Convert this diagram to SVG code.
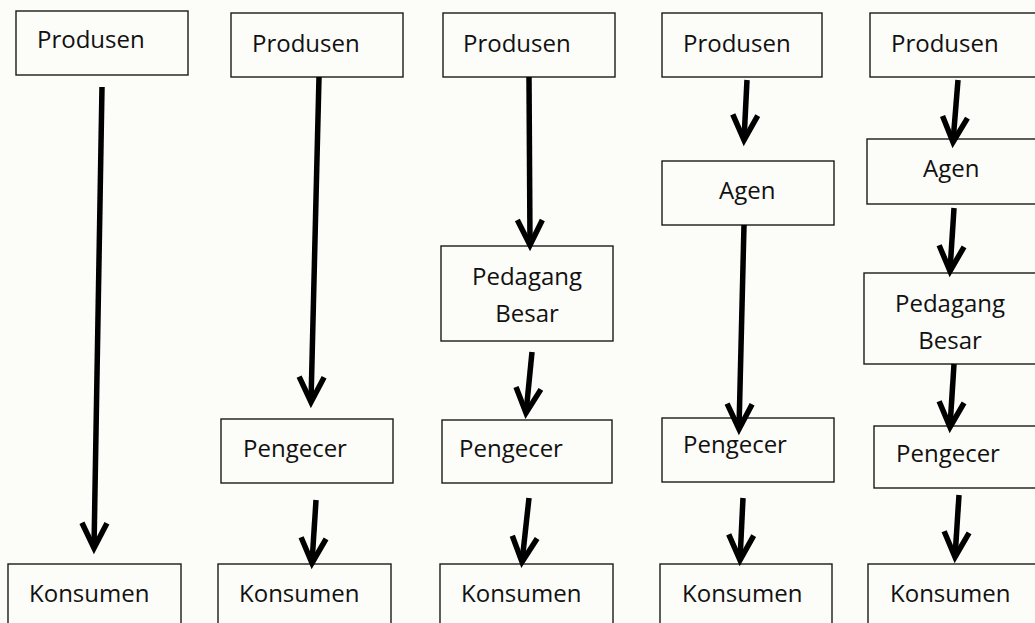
<svg xmlns="http://www.w3.org/2000/svg" width="1035" height="623" viewBox="0 0 1035 623">
<style>
.box{fill:none;stroke:#1a1a1a;stroke-width:1.4}
.t{font-family:"Open Sans","Noto Sans",sans-serif;font-size:24px;fill:#111}
.c{text-anchor:middle}
.arr{stroke:#000;stroke-width:5.5;fill:none;marker-end:url(#head)}
</style>
<defs>
<marker id="head" markerUnits="userSpaceOnUse" orient="auto" refX="0" refY="0" markerWidth="40" markerHeight="40" viewBox="-40 -20 40 40" overflow="visible">
<path d="M-25,-12.5 L0,0 L-25,12.5" fill="none" stroke="#000" stroke-width="5.5" stroke-linejoin="miter" stroke-miterlimit="10"/>
</marker>
</defs>
<rect x="0" y="0" width="1035" height="623" fill="#fcfcf8"/>

<g id="c1-produsen"><rect class="box" x="16" y="11" width="172" height="64"/><text class="t" x="37" y="48">Produsen</text></g>
<g id="c1-konsumen"><rect class="box" x="8" y="564" width="173" height="70"/><text class="t" x="29" y="602">Konsumen</text></g>

<g id="c2-produsen"><rect class="box" x="231" y="13" width="172" height="64"/><text class="t" x="252" y="52">Produsen</text></g>
<g id="c2-pengecer"><rect class="box" x="221" y="419" width="172" height="64"/><text class="t" x="243" y="457">Pengecer</text></g>
<g id="c2-konsumen"><rect class="box" x="218" y="564" width="173" height="70"/><text class="t" x="239" y="602">Konsumen</text></g>

<g id="c3-produsen"><rect class="box" x="443" y="13" width="172" height="64"/><text class="t" x="463" y="52">Produsen</text></g>
<g id="c3-pedagang"><rect class="box" x="441" y="246" width="172" height="95"/><text class="t c" x="527" y="285">Pedagang</text><text class="t c" x="527" y="322">Besar</text></g>
<g id="c3-pengecer"><rect class="box" x="442" y="420" width="170" height="63"/><text class="t" x="459" y="457">Pengecer</text></g>
<g id="c3-konsumen"><rect class="box" x="440" y="564" width="173" height="70"/><text class="t" x="461" y="602">Konsumen</text></g>

<g id="c4-produsen"><rect class="box" x="662" y="13" width="160" height="64"/><text class="t" x="683" y="52">Produsen</text></g>
<g id="c4-agen"><rect class="box" x="662" y="161" width="172" height="64"/><text class="t" x="719" y="199">Agen</text></g>
<g id="c4-pengecer"><rect class="box" x="662" y="418" width="172" height="64"/><text class="t" x="683" y="453">Pengecer</text></g>
<g id="c4-konsumen"><rect class="box" x="660" y="564" width="172" height="70"/><text class="t" x="682" y="602">Konsumen</text></g>

<g id="c5-produsen"><rect class="box" x="870" y="13" width="172" height="64"/><text class="t" x="891" y="52">Produsen</text></g>
<g id="c5-agen"><rect class="box" x="867" y="139" width="172" height="65"/><text class="t" x="923" y="177">Agen</text></g>
<g id="c5-pedagang"><rect class="box" x="864" y="273" width="172" height="91"/><text class="t c" x="950" y="312">Pedagang</text><text class="t c" x="950" y="349">Besar</text></g>
<g id="c5-pengecer"><rect class="box" x="874" y="426" width="172" height="62"/><text class="t" x="896" y="462">Pengecer</text></g>
<g id="c5-konsumen"><rect class="box" x="868" y="564" width="172" height="70"/><text class="t" x="890" y="602">Konsumen</text></g>

<g id="connectors">
<line class="arr" x1="102" y1="87" x2="94" y2="548"/>
<line class="arr" x1="319" y1="77" x2="311" y2="402"/>
<line class="arr" x1="316" y1="500" x2="312" y2="563"/>
<line class="arr" x1="529" y1="77" x2="530" y2="245"/>
<line class="arr" x1="532" y1="352" x2="526" y2="413"/>
<line class="arr" x1="529" y1="498" x2="522" y2="562"/>
<line class="arr" x1="747" y1="80" x2="744" y2="140"/>
<line class="arr" x1="744" y1="225" x2="739" y2="429"/>
<line class="arr" x1="743" y1="498" x2="740" y2="560"/>
<line class="arr" x1="958" y1="80" x2="953" y2="142"/>
<line class="arr" x1="954" y1="208" x2="950" y2="271"/>
<line class="arr" x1="954" y1="364" x2="950" y2="427"/>
<line class="arr" x1="959" y1="495" x2="955" y2="557"/>
</g>
</svg>
